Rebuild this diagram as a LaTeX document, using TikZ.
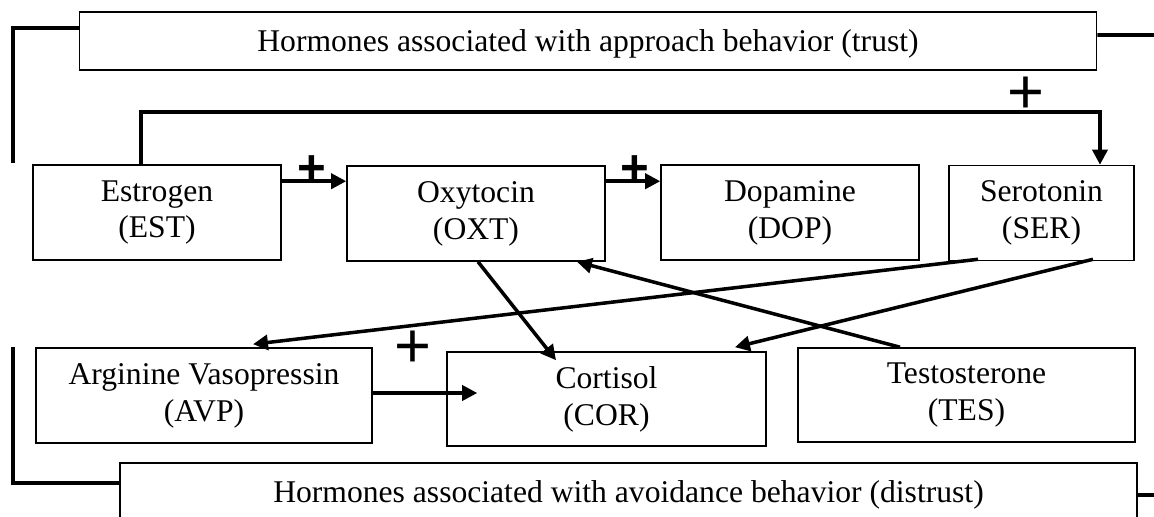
\documentclass[tikz,border=0pt]{standalone}
\usepackage{fontspec}
\setmainfont{Liberation Serif}
\newfontfamily\plusfont{Liberation Sans}
\usetikzlibrary{arrows.meta}

\begin{document}
\begin{tikzpicture}[x=0.02cm, y=-0.02cm,
		hbox/.style={draw, line width=0.9pt, minimum height=1.9cm, align=center, inner sep=0pt,
			font=\fontsize{18}{21}\selectfont, execute at begin node=\rule{0pt}{15.3pt}},
		groupbox/.style={hbox, minimum width=20.35cm, minimum height=1.16cm},
		link/.style={line width=2pt},
		arrowlink/.style={link, -{Triangle[length=0.3cm,width=0.3cm]}},
		plusbold/.style={inner sep=0pt, font=\plusfont\bfseries\fontsize{28}{28}\selectfont},
		plusthin/.style={inner sep=0pt, font=\plusfont\fontsize{36}{36}\selectfont}]
		\useasboundingbox (0,0) rectangle (1154,517);
		\clip (0,0) rectangle (1154,517);
		\node[groupbox] (appr) at (588,41) {Hormones associated with approach behavior (trust)};
		\node[groupbox] (avoid) at (628.5,492) {Hormones associated with avoidance behavior (distrust)};
		\node[hbox, minimum width=4.96cm] (est) at (157,212.5) {Estrogen\\(EST)};
		\node[hbox, minimum width=5.16cm] (oxt) at (476,213.5) {Oxytocin\\(OXT)};
		\node[hbox, minimum width=5.16cm] (dop) at (790,212.5) {Dopamine\\(DOP)};
		\node[hbox, minimum width=3.7cm] (ser) at (1041.5,213) {Serotonin\\(SER)};
		\node[hbox, minimum width=6.72cm] (avp) at (204,395.5) {Arginine Vasopressin\\(AVP)};
		\node[hbox, minimum width=6.38cm, minimum height=1.88cm] (cor) at (606.5,399) {Cortisol\\(COR)};
		\node[hbox, minimum width=6.74cm, minimum height=1.88cm] (tes) at (966.5,395) {Testosterone\\(TES)};
		% open ends of the two group brackets
		\coordinate (apprin) at (13,163);
		\coordinate (approut) at (1154,35);
		\coordinate (avoidin) at (13,347);
		\coordinate (avoidout) at (1154,495);
		\draw[link] (apprin) |- ([yshift=0.26cm]appr.west);
		\draw[link] ([yshift=0.12cm]appr.east) -- (approut);
		\draw[link] (avoidin) |- ([yshift=0.18cm]avoid.west);
		\draw[link] ([yshift=-0.06cm]avoid.east) -- (avoidout);
		% positive effects
		\draw[arrowlink] ([yshift=-0.34cm]est.north east) coordinate (e1) -- (e1 -| oxt.west);
		\draw[arrowlink] ([yshift=-0.32cm]oxt.north east) coordinate (o1) -- (o1 -| dop.west);
		\draw[arrowlink] ([xshift=-0.32cm]est.north) -- ++(0,-52) -| ([xshift=1.17cm]ser.north);
		\draw[arrowlink] ([yshift=0.05cm]avp.east) -- ([xshift=0.62cm,yshift=0.12cm]cor.west);
		\node[plusbold] (plusa) at (312,170) {+};
		\node[plusbold] (plusb) at (635,170) {+};
		\node[plusthin] (plusc) at (1026,95) {+};
		\node[plusthin] (plusd) at (413,349) {+};
		% crossing links
		\draw[arrowlink] ([xshift=0.04cm]oxt.south) -- ([xshift=-1.01cm,yshift=-0.18cm]cor.north);
		\draw[arrowlink] ([xshift=-1.33cm]tes.north) -- ([xshift=2.02cm]oxt.south);
		\draw[arrowlink] ([xshift=-1.27cm,yshift=0.04cm]ser.south) -- ([xshift=0.98cm,yshift=0.06cm]avp.north);
		\draw[arrowlink] ([xshift=1.03cm,yshift=0.04cm]ser.south) -- ([xshift=2.57cm,yshift=0.08cm]cor.north);
\end{tikzpicture}
\end{document}
